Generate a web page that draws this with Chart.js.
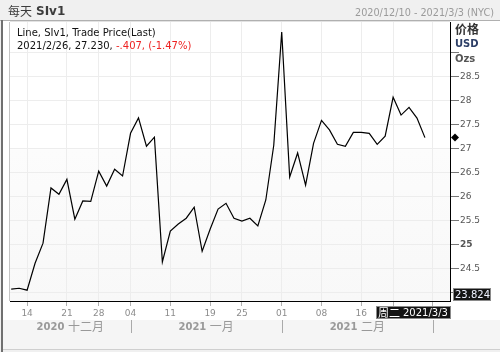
<!DOCTYPE html>
<html>
<head>
<meta charset="utf-8">
<script src="https://cdn.jsdelivr.net/npm/chart.js@4"></script>
<style>
  body { margin: 0; background: #f0f0f0; }
  canvas { display: block; }
</style>
</head>
<body>
<canvas id="grafica" width="500" height="352"></canvas>
<script>
// trading days on the axis (last three have no price yet)
var dates = ['2020-12-10', '2020-12-11', '2020-12-14', '2020-12-15', '2020-12-16', '2020-12-17', '2020-12-18',
    '2020-12-21', '2020-12-22', '2020-12-23', '2020-12-24', '2020-12-28', '2020-12-29', '2020-12-30', '2020-12-31',
    '2021-01-04', '2021-01-05', '2021-01-06', '2021-01-07', '2021-01-08', '2021-01-11', '2021-01-12', '2021-01-13',
    '2021-01-14', '2021-01-15', '2021-01-19', '2021-01-20', '2021-01-21', '2021-01-22', '2021-01-25', '2021-01-26',
    '2021-01-27', '2021-01-28', '2021-01-29', '2021-02-01', '2021-02-02', '2021-02-03', '2021-02-04', '2021-02-05',
    '2021-02-08', '2021-02-09', '2021-02-10', '2021-02-11', '2021-02-12', '2021-02-16', '2021-02-17', '2021-02-18',
    '2021-02-19', '2021-02-22', '2021-02-23', '2021-02-24', '2021-02-25', '2021-02-26', '2021-03-01', '2021-03-02',
    '2021-03-03'];

var prices = [24.07, 24.09, 24.05, 24.61, 25.03, 26.18, 26.05, 26.36, 25.53, 25.91,
    25.90, 26.53, 26.22, 26.57, 26.43, 27.32, 27.64, 27.05, 27.24, 24.64,
    25.28, 25.43, 25.55, 25.78, 24.86, 25.32, 25.74, 25.86, 25.55, 25.49,
    25.55, 25.39, 25.93, 27.07, 29.43, 26.41, 26.91, 26.24, 27.11, 27.59,
    27.39, 27.09, 27.05, 27.34, 27.34, 27.32, 27.09, 27.26, 28.07, 27.70,
    27.86, 27.637, 27.230];

var weekTicks = ['2020-12-14', '2020-12-21', '2020-12-28', '2021-01-04', '2021-01-11', '2021-01-19',
    '2021-01-25', '2021-02-01', '2021-02-08', '2021-02-16', '2021-02-22', '2021-03-01'];

var monthStarts = ['2020-12-10', '2021-01-04', '2021-02-01', '2021-03-01'];
var monthYears = ['2020', '2021', '2021'];
var monthNames = ['十二月', '一月', '二月'];

var priceTicks = [24, 24.5, 25, 25.5, 26, 26.5, 27, 27.5, 28, 28.5, 29];
var yMin = 23.824;
var yMax = 29.64;

var lastDate = '2021/2/26';
var lastPrice = '27.230';
var change = '-.407, (-1.47%)';
var rangeText = '2020/12/10 - 2021/3/3 (NYC)';
var cursorDay = '周二';
var cursorDate = '2021/3/3';

var puntos = prices.map(function (p, i) { return { x: i, y: p }; });

var fuente = 'DejaVu Sans';
var cjk = '"Noto Sans CJK SC"';

var marco = {
    id: 'marco',
    beforeDraw: function (chart) {
        var ctx = chart.ctx;
        var a = chart.chartArea;
        ctx.save();
        ctx.fillStyle = '#f0f0f0';
        ctx.fillRect(0, 0, 500, 352);
        ctx.fillStyle = '#ffffff';
        ctx.fillRect(3, 21, 497, 299);
        ctx.fillStyle = '#f5f5f5';
        ctx.fillRect(3, 320, 497, 29);
        ctx.fillStyle = '#cfcfcf';
        ctx.fillRect(3, 349, 497, 1);
        ctx.fillStyle = '#b0b0b0';
        ctx.fillRect(0, 20, 500, 1);
        ctx.fillStyle = '#707070';
        ctx.fillRect(1, 20, 2, 332);
        var g = ctx.createLinearGradient(0, a.top, 0, a.bottom);
        g.addColorStop(0, '#ffffff');
        g.addColorStop(0.45, '#ffffff');
        g.addColorStop(0.46, '#fcfcfc');
        g.addColorStop(1, '#f8f8f8');
        ctx.fillStyle = g;
        ctx.fillRect(a.left, a.top, a.right - a.left, a.bottom - a.top);
        ctx.restore();
    },
    afterDraw: function (chart) {
        var ctx = chart.ctx;
        var a = chart.chartArea;
        var x = chart.scales.x;
        var y = chart.scales.y;
        ctx.save();

        // plot frame left / top
        ctx.fillStyle = '#c4c4c4';
        ctx.fillRect(a.left - 1, a.top, 1, a.bottom - a.top);
        ctx.fillStyle = '#e2e2e2';
        ctx.fillRect(a.left, a.top - 1, a.right - a.left, 1);

        // header
        ctx.textBaseline = 'middle';
        ctx.fillStyle = '#3c3c3c';
        ctx.font = '12px ' + cjk;
        ctx.fillText('每天', 8, 11);
        ctx.font = 'bold 12px ' + fuente;
        ctx.fillText('SIv1', 36, 12);
        ctx.fillStyle = '#9a9a9a';
        ctx.font = '9.7px ' + fuente;
        ctx.textAlign = 'right';
        ctx.fillText(rangeText, 494, 13);
        ctx.textAlign = 'left';

        // legend text
        ctx.fillStyle = '#111111';
        ctx.font = '10px ' + fuente;
        ctx.fillText('Line, SIv1, Trade Price(Last)', 17, 33);
        var t1 = lastDate + ', ' + lastPrice + ', ';
        ctx.fillText(t1, 17, 46);
        ctx.fillStyle = '#ee2222';
        ctx.fillText(change, 17 + ctx.measureText(t1).width, 46);

        // right axis header
        ctx.fillStyle = '#333333';
        ctx.font = 'bold 12px ' + cjk;
        ctx.fillText('价格', 455, 29);
        ctx.fillStyle = '#2c3e66';
        ctx.font = 'bold 10px ' + fuente;
        ctx.fillText('USD', 455, 44);
        ctx.fillStyle = '#555555';
        ctx.fillText('Ozs', 455, 59);

        // month row
        for (var i = 0; i < monthNames.length; i++) {
            var x0 = i === 0 ? a.left : x.getPixelForValue(dates.indexOf(monthStarts[i]));
            var x1 = x.getPixelForValue(dates.indexOf(monthStarts[i + 1]));
            ctx.font = 'bold 10px ' + fuente;
            var w1 = ctx.measureText(monthYears[i] + ' ').width;
            ctx.font = '12px ' + cjk;
            var w2 = ctx.measureText(monthNames[i]).width;
            var sx = (x0 + x1) / 2 - (w1 + w2) / 2;
            ctx.fillStyle = '#999999';
            ctx.font = 'bold 10px ' + fuente;
            ctx.fillText(monthYears[i] + ' ', sx, 327);
            ctx.font = '12px ' + cjk;
            ctx.fillText(monthNames[i], sx + w1, 326);
            ctx.fillStyle = '#aaaaaa';
            ctx.fillRect(Math.round(x1), 320, 1, 13);
        }

        // last value diamond
        var dy = y.getPixelForValue(prices[prices.length - 1]);
        ctx.fillStyle = '#000000';
        ctx.beginPath();
        ctx.moveTo(455, dy - 4);
        ctx.lineTo(459, dy);
        ctx.lineTo(455, dy + 4);
        ctx.lineTo(451, dy);
        ctx.closePath();
        ctx.fill();

        // min value box
        var by = y.getPixelForValue(yMin);
        ctx.fillStyle = '#141414';
        ctx.fillRect(453, by - 13, 38, 13);
        ctx.strokeStyle = '#8a8a8a';
        ctx.lineWidth = 1;
        ctx.strokeRect(453.5, by - 12.5, 37, 12);
        ctx.fillStyle = '#eef2ff';
        ctx.font = '10px ' + fuente;
        ctx.fillText(yMin.toFixed(3), 455, by - 6);

        // cursor date box
        ctx.fillStyle = '#141414';
        ctx.fillRect(376, 306, 75, 13);
        ctx.strokeStyle = '#8a8a8a';
        ctx.strokeRect(376.5, 306.5, 74, 12);
        ctx.fillStyle = '#ffffff';
        ctx.font = '11px ' + cjk;
        ctx.fillText(cursorDay, 378, 312.5);
        ctx.font = '10px ' + fuente;
        ctx.fillText(cursorDate, 403, 313);

        ctx.restore();
    }
};

var tickIdx = weekTicks.map(function (d) { return dates.indexOf(d); });

var chart = new Chart(document.getElementById('grafica').getContext('2d'), {
    type: 'line',
    plugins: [marco],
    data: {
        datasets: [
            {
                label: 'SIv1',
                data: puntos,
                borderColor: '#000000',
                borderWidth: 1.2,
                pointRadius: 0,
                tension: 0,
                fill: false,
            },
        ],
    },
    options: {
        responsive: false,
        animation: false,
        devicePixelRatio: 1,
        layout: {
            padding: { left: 10, top: 22, right: 0, bottom: 0 },
        },
        plugins: {
            legend: { display: false },
            tooltip: { enabled: false },
        },
        scales: {
            x: {
                type: 'linear',
                position: 'bottom',
                min: -0.15,
                max: 55.15,
                afterBuildTicks: function (scale) {
                    scale.ticks = tickIdx.map(function (v) { return { value: v }; });
                },
                afterFit: function (scale) {
                    scale.height = 51;
                },
                border: { color: '#000000', width: 1 },
                grid: {
                    color: '#ededed',
                    tickColor: '#b0b0b0',
                    tickLength: 5,
                },
                ticks: {
                    autoSkip: false,
                    maxRotation: 0,
                    padding: 2,
                    color: '#8c8c8c',
                    font: { family: fuente, size: 9 },
                    callback: function (value) {
                        var d = dates[value];
                        return d ? d.slice(8) : '';
                    },
                },
            },
            y: {
                position: 'right',
                min: yMin,
                max: yMax,
                afterBuildTicks: function (scale) {
                    scale.ticks = priceTicks.map(function (v) { return { value: v }; });
                },
                afterFit: function (scale) {
                    scale.width = 50;
                },
                border: { color: '#000000', width: 1 },
                grid: {
                    color: '#ededed',
                    tickColor: '#777777',
                    tickLength: 9,
                },
                ticks: {
                    padding: 1,
                    color: '#555555',
                    font: function (c) {
                        var bold = c.tick && c.tick.value === 25;
                        return { family: fuente, size: 9, weight: bold ? 'bold' : 'normal' };
                    },
                    callback: function (value) {
                        if (value === 24 || value === 29) return '';
                        return String(value);
                    },
                },
            },
        },
    },
});
</script>
</body>
</html>
